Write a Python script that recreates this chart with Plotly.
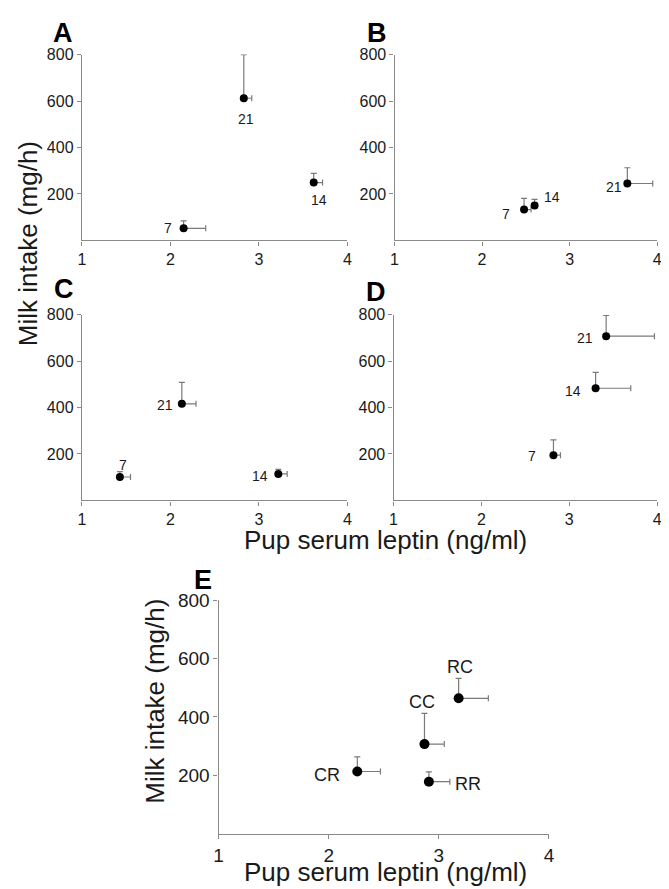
import plotly.graph_objects as go

# ---------------- data ----------------
panel_names = ["A", "B", "C", "D", "E"]

a_labels = ["7", "21", "14"]
a_leptin = [2.15, 2.83, 3.62]
a_leptin_err = [0.25, 0.09, 0.10]
a_milk = [52, 612, 249]
a_milk_err = [32, 188, 40]

b_labels = ["7", "14", "21"]
b_leptin = [2.48, 2.60, 3.66]
b_leptin_err = [0.08, 0.03, 0.29]
b_milk = [133, 150, 245]
b_milk_err = [48, 27, 68]

c_labels = ["7", "21", "14"]
c_leptin = [1.43, 2.13, 3.22]
c_leptin_err = [0.12, 0.16, 0.10]
c_milk = [101, 416, 114]
c_milk_err = [23, 92, 20]

d_labels = ["7", "14", "21"]
d_leptin = [2.82, 3.30, 3.42]
d_leptin_err = [0.08, 0.40, 0.55]
d_milk = [195, 483, 707]
d_milk_err = [66, 68, 89]

e_labels = ["CR", "CC", "RC", "RR"]
e_leptin = [2.26, 2.87, 3.18, 2.91]
e_leptin_err = [0.21, 0.18, 0.27, 0.19]
e_milk = [213, 307, 464, 178]
e_milk_err = [50, 105, 68, 34]

x_ticks = [1, 2, 3, 4]
y_ticks = [200, 400, 600, 800]
x_title = "Pup serum leptin (ng/ml)"
y_title = "Milk intake (mg/h)"

# ---------------- styling / layout ----------------
PAGE_W, PAGE_H = 669, 889
OFF = 8  # default body margin of the page
W, H = PAGE_W - OFF, PAGE_H - OFF
FONT = "Liberation Sans, Arial, Helvetica, sans-serif"
TXT = "#1a1a1a"
AXC = "#8a8a8a"


def px_x(p):
    return (p - OFF) / W


def px_y(p):
    return 1 - (p - OFF) / H


# plot-area page-pixel boxes: (left, right, top(800), bottom(0))
boxes = [
    (78, 348, 45, 233),
    (396, 663, 45, 233),
    (78, 348, 308, 496),
    (395, 663, 308, 496),
    (217, 553, 597, 833),
]

# label offsets in pixels (dx right, dy down) -- styling only
offsets = [
    [(-16, 0), (2, 21), (5, 17)],
    [(-18, 4), (17, -9), (-13, 3)],
    [(3, -12), (-17, 1), (-18, 2)],
    [(-21, 1), (-23, 3), (-21, 2)],
    [(-30, 3), (-2, -42), (1, -31), (39, 2)],
]

panels = [
    (a_labels, a_leptin, a_leptin_err, a_milk, a_milk_err),
    (b_labels, b_leptin, b_leptin_err, b_milk, b_milk_err),
    (c_labels, c_leptin, c_leptin_err, c_milk, c_milk_err),
    (d_labels, d_leptin, d_leptin_err, d_milk, d_milk_err),
    (e_labels, e_leptin, e_leptin_err, e_milk, e_milk_err),
]

fig = go.Figure()
annotations = []
layout_axes = {}

for i, (labels, xs, xe, ys, ye) in enumerate(panels):
    n = i + 1
    big = (i == 4)
    xa = "x" if n == 1 else f"x{n}"
    ya = "y" if n == 1 else f"y{n}"
    xkey = "xaxis" if n == 1 else f"xaxis{n}"
    ykey = "yaxis" if n == 1 else f"yaxis{n}"
    l, r, t, b = boxes[i]
    tick_size = 19 if big else 16
    lab_size = 18 if big else 14
    msize = 10 if big else 8

    fig.add_trace(go.Scatter(
        x=xs, y=ys, xaxis=xa, yaxis=ya, mode="markers",
        marker=dict(color="black", size=msize),
        error_x=dict(type="data", array=xe, arrayminus=[0] * len(xe),
                     symmetric=False, color="#7a7a7a", thickness=1.2, width=3),
        error_y=dict(type="data", array=ye, arrayminus=[0] * len(ye),
                     symmetric=False, color="#7a7a7a", thickness=1.2, width=3),
        showlegend=False, hoverinfo="skip",
    ))

    common = dict(showline=True, linecolor=AXC, linewidth=1.2, ticks="outside",
                  ticklen=4, tickcolor=AXC, tickwidth=1.2, showgrid=False,
                  zeroline=False, fixedrange=True, ticklabeloverflow="allow",
                  tickfont=dict(family=FONT, size=tick_size, color=TXT))
    layout_axes[xkey] = dict(common, domain=[px_x(l), px_x(r)], range=[1, 4],
                             tickvals=x_ticks, anchor=ya)
    layout_axes[ykey] = dict(common, domain=[px_y(b), px_y(t)], range=[0, 800],
                             tickvals=y_ticks, anchor=xa)

    for j, lab in enumerate(labels):
        dx, dy = offsets[i][j]
        annotations.append(dict(
            x=xs[j], y=ys[j], xref=xa, yref=ya, text=lab, showarrow=False,
            xanchor="center", yanchor="middle", xshift=dx, yshift=-dy,
            font=dict(family=FONT, size=lab_size, color=TXT)))

# panel letters
letter_pos = [(59, 23), (378, 23), (60, 282), (377, 285), (201, 576)]
for name, (lx, ly) in zip(panel_names, letter_pos):
    annotations.append(dict(
        x=px_x(lx), y=px_y(ly), xref="paper", yref="paper",
        text=f"<b>{name}</b>", showarrow=False, xanchor="center", yanchor="middle",
        font=dict(family=FONT, size=27, color="black")))

# axis titles
title_font = dict(family=FONT, size=26, color=TXT)
annotations += [
    dict(x=px_x(24), y=px_y(236), xref="paper", yref="paper", text=y_title,
         textangle=-90, showarrow=False, xanchor="center", yanchor="middle", font=title_font),
    dict(x=px_x(387), y=px_y(536), xref="paper", yref="paper", text=x_title,
         showarrow=False, xanchor="center", yanchor="middle", font=title_font),
    dict(x=px_x(153), y=px_y(699), xref="paper", yref="paper", text=y_title,
         textangle=-90, showarrow=False, xanchor="center", yanchor="middle", font=title_font),
    dict(x=px_x(387), y=px_y(889), xref="paper", yref="paper", text=x_title,
         showarrow=False, xanchor="center", yanchor="bottom", font=title_font),
]

fig.update_layout(
    width=W, height=H, margin=dict(l=0, r=0, t=0, b=0),
    paper_bgcolor="white", plot_bgcolor="white",
    annotations=annotations, showlegend=False, **layout_axes,
)

fig.write_html("out.html", config={"displayModeBar": False})
